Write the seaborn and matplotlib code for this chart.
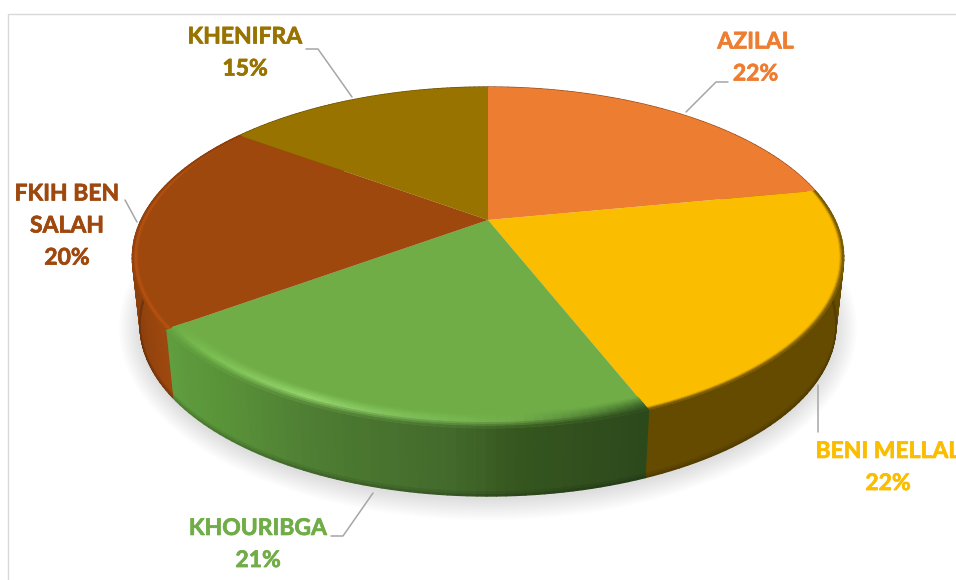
import numpy as np
import matplotlib
matplotlib.use("Agg")
import matplotlib.pyplot as plt
import matplotlib.patheffects as pe
import seaborn as sns
from matplotlib.collections import PolyCollection
from matplotlib.colors import to_rgb
from matplotlib.patches import Ellipse
from matplotlib.transforms import Transform

regions = ["AZILAL", "BENI MELLAL", "KHOURIBGA", "FKIH BEN\nSALAH", "KHENIFRA"]
shares = [22, 22, 21, 20, 15]
top_colors = ["#ED7D31", "#FBBD00", "#70AD47", "#9E480E", "#997300"]

# wall / bevel shading, (clockwise angle from the top, colour)
wall_stops = [
    [(0, "#9a4f20"), (360, "#9a4f20")],
    [(0, "#654B00"), (360, "#654B00")],
    [(158, "#2b481c"), (176, "#36561f"), (185, "#436a2c"), (205, "#4f7f33"), (220, "#5a9439"), (234, "#609f40")],
    [(234, "#9e480e"), (250, "#8a3f0c"), (306, "#8a3f0c")],
    [(0, "#6d5200"), (360, "#6d5200")],
]
bevel_stops = [
    [(0, "#ED7D31"), (360, "#ED7D31")],
    [(0, "#FBBD00"), (360, "#FBBD00")],
    [(158, "#3f6a2a"), (176, "#72ad4b"), (190, "#7fc05a"), (205, "#96d66c"), (226, "#79bd50"), (234, "#70ad47")],
    [(234, "#b95310"), (285, "#b95310"), (306, "#9e480e")],
    [(0, "#997300"), (360, "#997300")],
]
bevel_width = [0.0, 0.025, 0.055, 0.016, 0.0]

# leader lines in pixels, same order as regions
leaders = [
    [(728, 82), (716, 82), (686, 112)],
    [(818, 385), (818, 432)],
    [(331, 536), (343, 536), (373, 493)],
    [(125, 200), (137, 222)],
    [(306, 49), (318, 49), (352, 97)],
]
label_pos = [(755.5, 58), (888, 467.5), (258, 544.5), (67, 226), (245, 53)]

# pie perspective in pixels
CX, CY = 488, 220
RX, RY, PERSP = 347, 162.3, 0.22
DEPTH, BOTTOM_SCALE = 68, 0.978


def project(x, y):
    w = 1 + PERSP * y
    return CX + RX * x / w, CY - RY * y / w


class PieTilt(Transform):
    input_dims = 2
    output_dims = 2

    def transform_non_affine(self, values):
        values = np.asarray(values)
        px, py = project(values[:, 0], values[:, 1])
        return np.column_stack([px, py])


def shade(stops, cw):
    cw = np.asarray(cw) % 360
    angles = [s[0] for s in stops]
    rgb = np.array([to_rgb(s[1]) for s in stops])
    return np.column_stack([np.interp(cw, angles, rgb[:, i]) for i in range(3)])


def add_quads(ax, quads, colors, zorder, lw=0.9):
    coll = PolyCollection(quads, facecolors=colors, edgecolors=colors, linewidths=lw, zorder=zorder)
    ax.add_collection(coll)


sns.set_theme(style="white")
plt.rcParams["font.family"] = ["Lato", "DejaVu Sans"]
palette = sns.color_palette(top_colors)

fig = plt.figure(figsize=(9.56, 5.8), dpi=100)
ax = fig.add_axes([0, 0, 1, 1])

wedges, _ = ax.pie(shares, colors=palette, startangle=90, counterclock=False, wedgeprops={"linewidth": 0})
ax.set_aspect("auto")
ax.set_xlim(0, 956)
ax.set_ylim(580, 0)

tilt = PieTilt()
for w in wedges:
    w.set_transform(tilt + ax.transData)
    w.set_zorder(3)

# soft shadow under the pie
for k in range(1, 12):
    ax.add_patch(Ellipse((488, 328), 2 * (347 + 2 * k), 2 * (170 + 2 * k), fc="black", ec="none", alpha=0.01, zorder=1))

for i, w in enumerate(wedges):
    phi = np.radians(np.linspace(w.theta1, w.theta2, 60))
    cw = 90 - np.degrees((phi[:-1] + phi[1:]) / 2)
    wall = shade(wall_stops[i], cw)

    # outer wall, a thin darker line at the foot
    ex, ey = project(np.cos(phi), np.sin(phi))
    bx = CX + BOTTOM_SCALE * (ex - CX)
    quads, colors = [], []
    for a, b, dark in [(0, 0.94, 1.0), (0.94, 0.98, 0.92), (0.98, 1.0, 0.82)]:
        for j in range(len(phi) - 1):
            xa0, xa1 = ex[j] + a * (bx[j] - ex[j]), ex[j + 1] + a * (bx[j + 1] - ex[j + 1])
            xb0, xb1 = ex[j] + b * (bx[j] - ex[j]), ex[j + 1] + b * (bx[j + 1] - ex[j + 1])
            quads.append([(xa0, ey[j] + a * DEPTH), (xa1, ey[j + 1] + a * DEPTH),
                          (xb1, ey[j + 1] + b * DEPTH), (xb0, ey[j] + b * DEPTH)])
            colors.append(wall[j] * dark)
    add_quads(ax, quads, colors, 2)

    # bevel along the front edge
    width = bevel_width[i]
    if width > 0:
        top = np.array(to_rgb(top_colors[i]))
        glow = shade(bevel_stops[i], cw)
        rings = np.linspace(1 - width, 1, 9)
        quads, colors = [], []
        for a, b in zip(rings[:-1], rings[1:]):
            t = ((a + b) / 2 - rings[0]) / width
            xa, ya = project(a * np.cos(phi), a * np.sin(phi))
            xb, yb = project(b * np.cos(phi), b * np.sin(phi))
            for j in range(len(phi) - 1):
                quads.append([(xa[j], ya[j]), (xa[j + 1], ya[j + 1]), (xb[j + 1], yb[j + 1]), (xb[j], yb[j])])
                if t < 0.55:
                    colors.append(top + (glow[j] - top) * t / 0.55)
                else:
                    colors.append(glow[j] + (wall[j] - glow[j]) * (t - 0.55) / 0.45)
        add_quads(ax, quads, colors, 4, lw=0.6)

for i, name in enumerate(regions):
    pts = np.array(leaders[i])
    ax.plot(pts[:, 0], pts[:, 1], color="#A6A6A6", lw=1.1, zorder=5)
    ax.text(label_pos[i][0], label_pos[i][1], f"{name}\n{shares[i]}%", color=palette[i], fontsize=16.5,
            fontweight="bold", ha="center", va="center", linespacing=1.65, zorder=6,
            path_effects=[pe.withStroke(linewidth=0.5, foreground=palette[i])])

# chart frame, only top and left show in the crop
ax.plot([8, 8, 956], [580, 14, 14], color="#D9D9D9", lw=1, zorder=0)

fig.savefig("out.png", dpi=100)
